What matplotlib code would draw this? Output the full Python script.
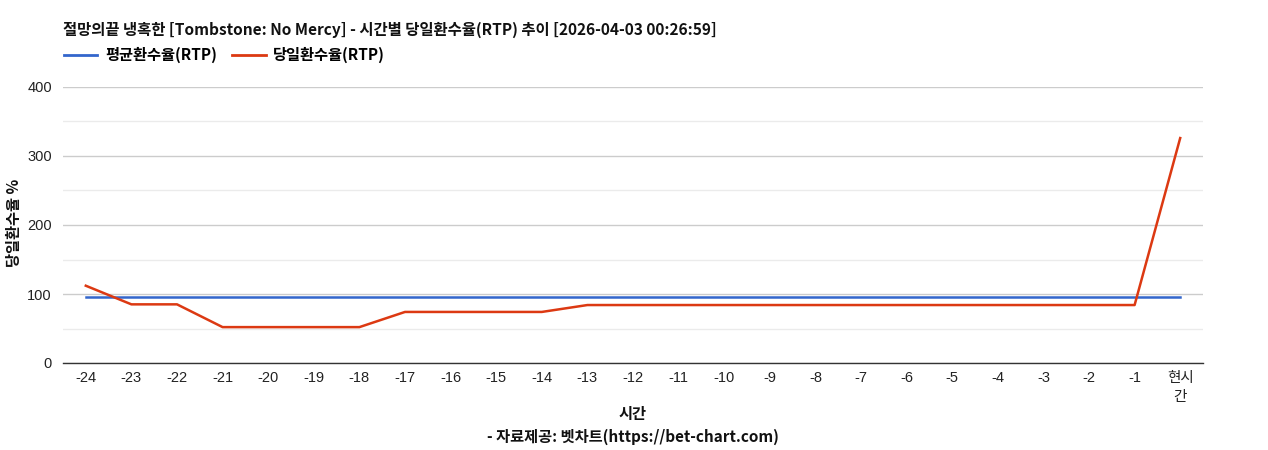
import matplotlib
matplotlib.use("Agg")
import matplotlib.pyplot as plt
from matplotlib.lines import Line2D

plt.rcParams['font.family'] = ['Liberation Sans', 'Noto Sans CJK KR', 'DejaVu Sans']

categories = ['-24', '-23', '-22', '-21', '-20', '-19', '-18', '-17', '-16', '-15', '-14', '-13',
              '-12', '-11', '-10', '-9', '-8', '-7', '-6', '-5', '-4', '-3', '-2', '-1', '현시\n간']
avg_rtp = [96] * 25
daily_rtp = [112, 85, 85, 52, 52, 52, 52, 74, 74, 74, 74, 84,
             84, 84, 84, 84, 84, 84, 84, 84, 84, 84, 84, 84, 326]
y_ticks = [0, 100, 200, 300, 400]

title = '절망의끝 냉혹한 [Tombstone: No Mercy] - 시간별 당일환수율(RTP) 추이 [2026-04-03 00:26:59]'
kfont = ['Noto Sans CJK KR', 'DejaVu Sans']

fig = plt.figure(figsize=(12.68, 4.5), dpi=100)
W, H = 1268, 450
ax = fig.add_axes([63 / W, 1 - 363 / H, (1203 - 63) / W, (363 - 87) / H])

x = list(range(len(categories)))
ax.plot(x, avg_rtp, color='#3366cc', lw=1.8, zorder=3)
ax.plot(x, daily_rtp, color='#dc3912', lw=1.8, zorder=4)

ax.set_xlim(-0.5, len(categories) - 0.5)
ax.set_ylim(0, 400)
ax.set_yticks(y_ticks)
ax.set_yticks([50, 150, 250, 350], minor=True)
ax.grid(axis='y', which='major', color='#cccccc', lw=1)
ax.grid(axis='y', which='minor', color='#ebebeb', lw=1)
ax.set_axisbelow(True)
ax.set_xticks(x)
ax.set_xticklabels(categories, fontsize=10.5, linespacing=1.45)
ax.tick_params(axis='y', which='both', length=0, labelsize=10.5, pad=8, colors='#222222')
ax.tick_params(axis='x', length=0, pad=6, colors='#222222')
for s in ['top', 'right', 'left']:
    ax.spines[s].set_visible(False)
ax.spines['bottom'].set_color('#333333')
ax.spines['bottom'].set_linewidth(1)

fig.text(63 / W, 1 - 30 / H, title, fontsize=11.1, fontweight='bold', family=kfont, va='center', ha='left', color='#111111')

handles = [Line2D([], [], color='#3366cc', lw=2), Line2D([], [], color='#dc3912', lw=2)]
leg = fig.legend(handles, ['평균환수율(RTP)', '당일환수율(RTP)'], loc='center left',
                 bbox_to_anchor=(50 / W, 1 - 55 / H), ncol=2, frameon=False,
                 prop={'family': kfont, 'weight': 'bold', 'size': 11},
                 handlelength=2.2, handletextpad=0.5, columnspacing=1.0)

fig.text(14 / W, 1 - 223 / H, '당일환수율 %', rotation=90, fontsize=11, fontweight='bold', family=kfont,
         va='center', ha='center', color='#111111')
fig.text(633 / W, 1 - 414 / H, '시간', fontsize=11, fontweight='bold', family=kfont, va='center', ha='center', color='#111111')
fig.text(633 / W, 1 - 437 / H, '- 자료제공: 벳차트(https://bet-chart.com)', fontsize=11, fontweight='bold', family=kfont,
         va='center', ha='center', color='#111111')

fig.savefig('out.png', dpi=100, facecolor='white')
